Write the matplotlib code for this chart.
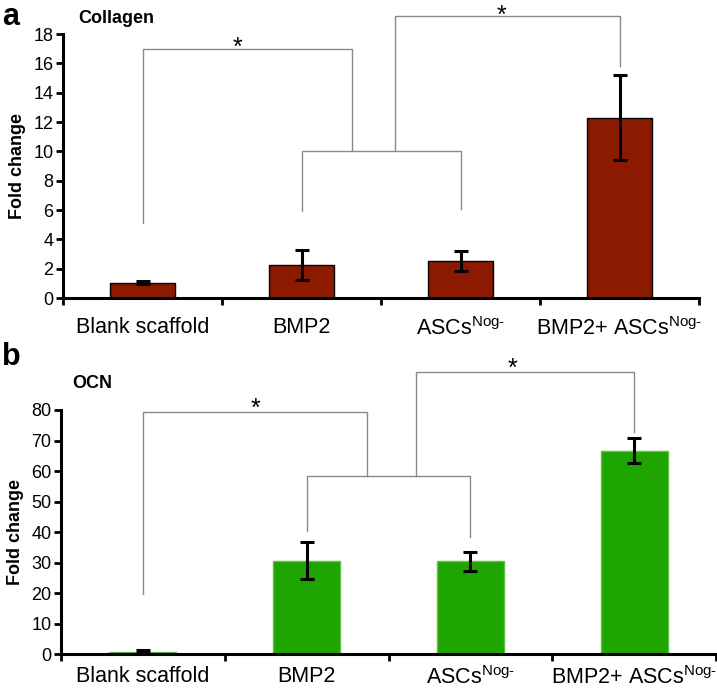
import matplotlib.pyplot as plt
import numpy as np

plt.rcParams['font.family'] = ['Liberation Sans', 'DejaVu Sans']
plt.rcParams['mathtext.fontset'] = 'custom'
plt.rcParams['mathtext.rm'] = 'Liberation Sans'
plt.rcParams['mathtext.it'] = 'Liberation Sans'

groups = ["Blank scaffold", "BMP2", "ASCs$^{\\mathrm{Nog\u2010}}$", "BMP2+ ASCs$^{\\mathrm{Nog\u2010}}$"]

collagen = [1.05, 2.25, 2.55, 12.3]
collagen_err = [0.12, 1.05, 0.68, 2.9]

ocn = [0.9, 30.7, 30.5, 66.7]
ocn_err = [0.4, 6.1, 3.1, 4.1]

# significance brackets: (x_left, x_right, y_top, y_left_end, y_right_end)
collagen_brackets = [(0, 1.32, 17.0, 5.1, 10.0),
                     (1, 2, 10.0, 5.9, 6.05),
                     (1.59, 3, 19.2, 10.0, 15.8)]
collagen_stars = [(0.6, 17.0), (2.26, 19.2)]

ocn_brackets = [(0, 1.37, 79.2, 19.7, 58.4),
                (1, 2, 58.4, 40.5, 38.5),
                (1.67, 3, 92.3, 58.4, 72.7)]
ocn_stars = [(0.69, 79.2), (2.26, 92.3)]

fig = plt.figure(figsize=(7.17, 6.9), dpi=100)
ax1 = fig.add_axes([0.0879, 0.5681, 0.8870, 0.3826])
ax2 = fig.add_axes([0.0851, 0.0517, 0.9135, 0.3541])


def draw_panel(ax, vals, errs, color, edge, ymax, ystep, brackets, stars, lab_pad, star_off):
    x = np.arange(len(vals))
    ax.bar(x, vals, width=0.41, color=color, edgecolor=edge, linewidth=1.0, zorder=2)
    ax.errorbar(x, vals, yerr=errs, fmt='none', ecolor='black', elinewidth=2.2,
                capsize=5, capthick=2.2, zorder=3)
    for xl, xr, yt, yl, yr in brackets:
        ax.plot([xl, xl, xr, xr], [yl, yt, yt, yr], color='#8a8a8a', lw=1.0,
                clip_on=False, zorder=1)
    # asterisk sits just above its bracket
    for sx, sy in stars:
        ax.annotate("*", (sx, sy), xytext=(0, star_off), textcoords='offset points',
                    ha='center', va='baseline', fontsize=18, annotation_clip=False)
    ax.set_xlim(-0.5, 3.5)
    ax.set_ylim(0, ymax)
    ax.set_yticks(np.arange(0, ymax + 0.1, ystep))
    ax.set_xticks([-0.5, 0.5, 1.5, 2.5, 3.5])
    ax.set_xticklabels([])
    ax.set_xticks(x, minor=True)
    ax.set_xticklabels(groups, minor=True, fontsize=15.5)
    ax.tick_params(axis='x', which='minor', length=0, pad=lab_pad)
    ax.tick_params(axis='x', which='major', length=5, width=2, direction='out')
    ax.tick_params(axis='y', length=5, width=2, labelsize=13, pad=2)
    for s in ['top', 'right']:
        ax.spines[s].set_visible(False)
    for s in ['left', 'bottom']:
        ax.spines[s].set_linewidth(2.2)
    ax.set_ylabel("Fold change", fontsize=13, fontweight='bold', labelpad=5)


draw_panel(ax1, collagen, collagen_err, '#8b1a00', 'black', 18, 2,
           collagen_brackets, collagen_stars, 14, -4.6)
draw_panel(ax2, ocn, ocn_err, '#1fa500', '#5cc045', 80, 10,
           ocn_brackets, ocn_stars, 8.5, -2.6)

fig.text(0.003, 0.997, "a", fontsize=22, fontweight='bold', va='top')
fig.text(0.109, 0.985, "Collagen", fontsize=13, fontweight='bold', va='top')
fig.text(0.003, 0.505, "b", fontsize=22, fontweight='bold', va='top')
fig.text(0.101, 0.457, "OCN", fontsize=13, fontweight='bold', va='top')

fig.savefig("out.png", dpi=100)
